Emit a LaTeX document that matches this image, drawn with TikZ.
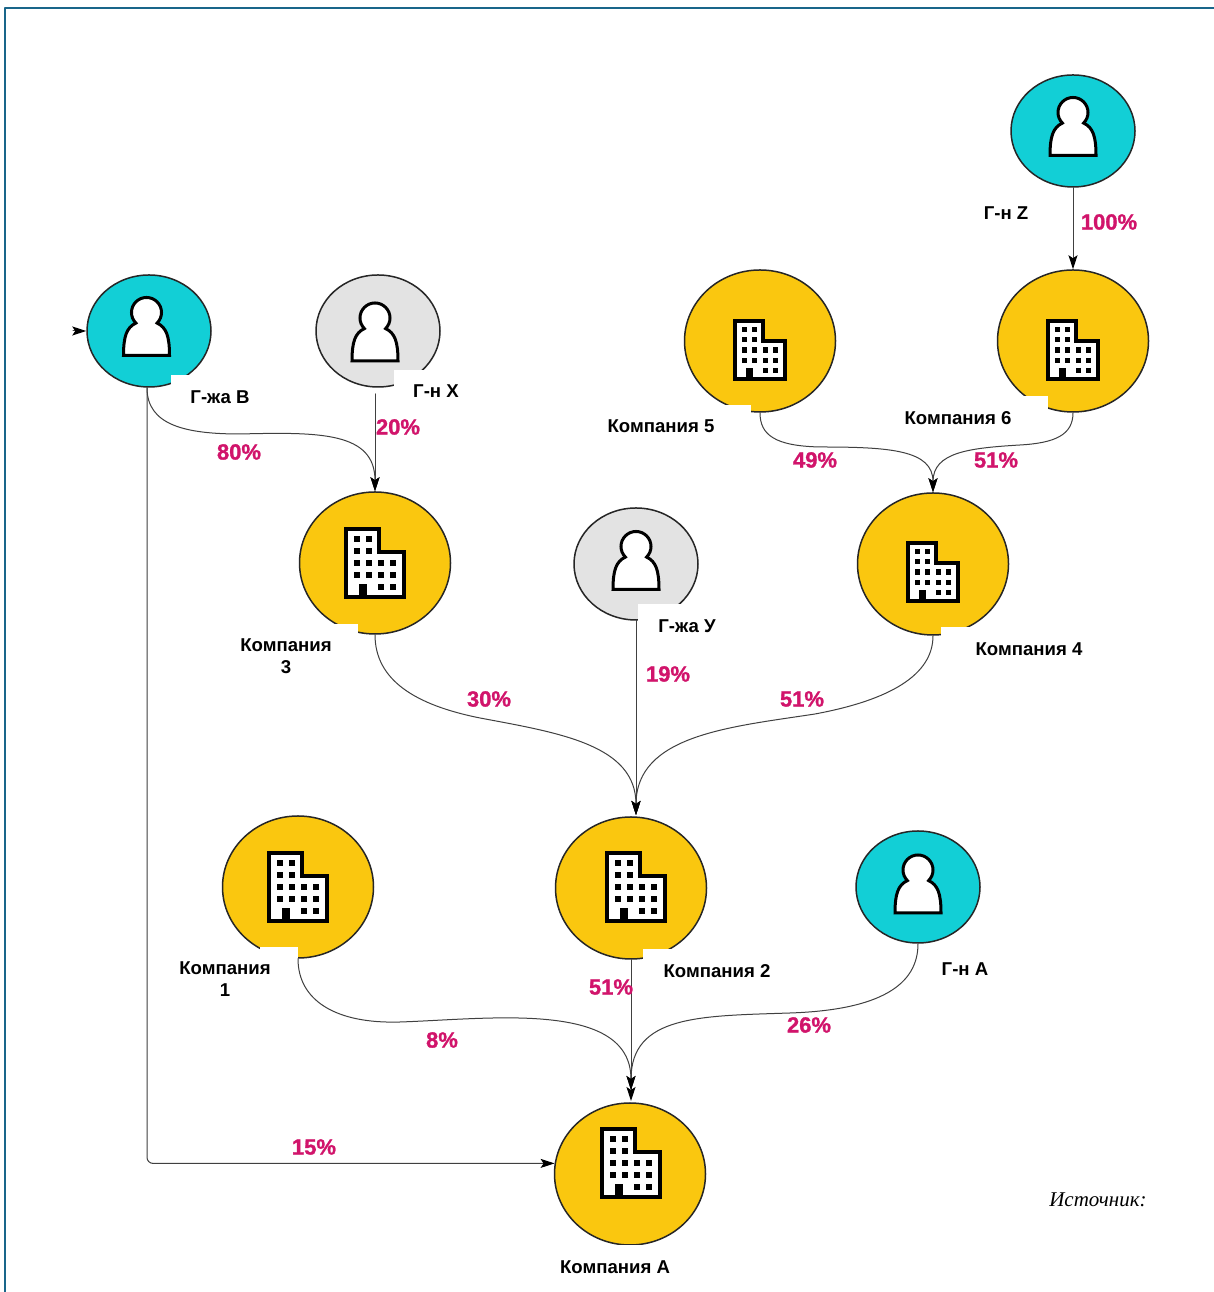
\documentclass[tikz,border=0pt]{standalone}
\usepackage{fontspec}
\setmainfont{Liberation Sans}
\newfontfamily\srcfont{Liberation Serif}
\newfontfamily\pctfont[BoldFeatures={FakeBold=1.2}]{Liberation Sans}
\usetikzlibrary{arrows.meta,shapes.geometric}
\definecolor{tealc}{rgb}{0.07,0.81,0.84}
\definecolor{goldc}{rgb}{0.98,0.78,0.06}
\definecolor{greyc}{rgb}{0.89,0.89,0.89}
\definecolor{pinkc}{rgb}{0.82,0.08,0.42}
\definecolor{framec}{rgb}{0.10,0.40,0.54}
\tikzset{
  owner/.style={ellipse,draw=black!85,line width=1.5pt,inner sep=0pt,minimum width=124pt,minimum height=112pt},
  firm/.style={ellipse,draw=black!85,line width=1.5pt,fill=goldc,inner sep=0pt,minimum width=151pt,minimum height=142pt},
  lbl/.style={font=\fontsize{18.6}{22}\selectfont\bfseries,align=center,inner sep=0pt},
  pct/.style={font=\fontsize{22}{24}\selectfont\pctfont\bfseries,text=pinkc,inner sep=0pt},
  link/.style={draw=black!75,line width=1pt,->},
  personicon/.pic={
    \draw [line width=3pt,fill=white,line join=miter] (-23,-28)-- (23,-28) .. controls (23,-9) and (20,0) .. (10.6,4.4) arc (-45:225:15) .. controls (-20,0) and (-23,-9) .. cycle;
  },
  buildingicon/.pic={
    \draw [line width=4pt,fill=white,line join=miter] (-29,-34)-- (-29,34)-- (4,34)-- (4,11)-- (29,11)-- (29,-34)-- cycle;
    \foreach \yy in {24,12} \foreach \xx in {-18,-6} \fill (\xx-3,\yy-3) rectangle (\xx+3,\yy+3);
    \foreach \yy in {0,-12} \foreach \xx in {-18,-6,6,18} \fill (\xx-3,\yy-3) rectangle (\xx+3,\yy+3);
    \foreach \xx in {6,18} \fill (\xx-3,-27) rectangle (\xx+3,-21);
    \fill (-16,-36) rectangle (-8,-21);
  }
}
\begin{document}
\begin{tikzpicture}[line cap=round,line join=round,>={Stealth[length=14pt,width=9pt,inset=3pt,black]},x=1pt,y=1pt]
    \useasboundingbox (0,0) rectangle (1214,1292);
    \fill [white] (0,0) rectangle (1214,1292);
    \draw [framec,line width=2.5pt,line cap=butt] (5,0)-- (5,1284)-- (1214,1284);
    % owners
    \node [owner,fill=tealc] (gB) at (149,961) {};
    \node [owner,fill=greyc] (gX) at (378,961) {};
    \node [owner,fill=tealc] (gZ) at (1073,1161) {};
    \node [owner,fill=greyc] (gY) at (636,728) {};
    \node [owner,fill=tealc] (gA) at (918,405) {};
    % companies
    \node [firm] (c1) at (298,405) {};
    \node [firm] (c2) at (631,404) {};
    \node [firm] (c3) at (375,729) {};
    \node [firm] (c4) at (933,728) {};
    \node [firm] (c5) at (760,951) {};
    \node [firm] (c6) at (1073,951) {};
    \node [firm] (cA) at (630,118) {};
    % icons
    \pic at (146.5,964.5) {personicon};
    \pic at (375,959) {personicon};
    \pic at (1073,1164.5) {personicon};
    \pic at (636,730.5) {personicon};
    \pic at (918,407) {personicon};
    \pic at (298,405) {buildingicon};
    \pic at (636,405) {buildingicon};
    \pic at (375,729) {buildingicon};
    \pic [scale=.86] at (933,720) {buildingicon};
    \pic [scale=.86] at (760,942) {buildingicon};
    \pic [scale=.86] at (1073,942) {buildingicon};
    \pic at (630.5,129) {buildingicon};
    % patches
    \fill [white] (171,917) rectangle (215,900);
    \fill [white] (394,922) rectangle (445,900);
    \fill [white] (290,668) rectangle (358,650);
    \fill [white] (700,887) rectangle (751,870);
    \fill [white] (1000,896) rectangle (1048,880);
    \fill [white] (941,665) rectangle (1000,650);
    \fill [white] (638,688) rectangle (700,665);
    \fill [white] (260,345) rectangle (298,330);
    \fill [white] (643,343) rectangle (700,330);
    \fill [white] (540,47) rectangle (720,30);
    % connector ends
    \coordinate (stub) at (73,961);
    \coordinate (gXout) at (375,898);
    \coordinate (gYout) at (636,672);
    \coordinate (c2in) at (636,477);
    \coordinate (cAin) at (631,191);
    \coordinate (cAup) at (631,202);
    % connectors
    \draw [link] (stub)-- (gB.west);
    \draw [link] ([xshift=-2pt]gB.south) .. controls (147,867) and (185,858) .. (240,858) .. controls (320,860) and (375,860) .. (c3.north);
    \draw [link,rounded corners=6pt] ([xshift=-2pt]gB.south) |- (cA.172);
    \draw [link] (gXout)-- (c3.north);
    \draw [link] (gZ.south)-- (c6.north);
    \draw [link] (c5.south) .. controls (760,857) and (775,846) .. (820,845) .. controls (890,845) and (933,842) .. (c4.north);
    \draw [link] (c6.south) .. controls (1073,857) and (1055,849) .. (1020,847) .. controls (970,844) and (933,840) .. (c4.north);
    \draw [link] (c3.south) .. controls (375,612) and (415,587) .. (480,574) .. controls (560,559) and (636,547) .. (c2in);
    \draw [link] (gYout)-- (c2in);
    \draw [link] (c4.south) .. controls (933,617) and (890,592) .. (815,578) .. controls (730,565) and (636,557) .. (c2in);
    \draw [link] (c2.south)-- (cAin);
    \draw [link] (c1.south) .. controls (298,292) and (335,268) .. (400,270) .. controls (490,273) and (631,292) .. (cAup);
    \draw [link] (gA.south) .. controls (918,307) and (880,282) .. (790,279) .. controls (700,276) and (631,277) .. (cAup);
    % names
    \node [lbl] (tB) at (220,895) {Г-жа В};
    \node [lbl] (tX) at (436,901) {Г-н Х};
    \node [lbl] (tZ) at (1006,1079) {Г-н Z};
    \node [lbl] (t5) at (661,866) {Компания 5};
    \node [lbl] (t6) at (958,874) {Компания 6};
    \node [lbl] (t3) at (286,636) {Компания\\3};
    \node [lbl] (tY) at (687,666) {Г-жа У};
    \node [lbl] (t4) at (1029,643) {Компания 4};
    \node [lbl] (t1) at (225,313) {Компания\\1};
    \node [lbl] (t2) at (717,321) {Компания 2};
    \node [lbl] (tA) at (965,323) {Г-н А};
    \node [lbl] (tC) at (615,25) {Компания А};
    % shares
    \node [pct] (p100) at (1109,1070) {100\%};
    \node [pct] (p20) at (398,865) {20\%};
    \node [pct] (p80) at (239,840) {80\%};
    \node [pct] (p49) at (815,832) {49\%};
    \node [pct] (p51a) at (996,832) {51\%};
    \node [pct] (p30) at (489,593) {30\%};
    \node [pct] (p19) at (668,618) {19\%};
    \node [pct] (p51b) at (802,593) {51\%};
    \node [pct] (p51c) at (611,305) {51\%};
    \node [pct] (p8) at (442,252) {8\%};
    \node [pct] (p26) at (809,267) {26\%};
    \node [pct] (p15) at (314,145) {15\%};
    \node [inner sep=0pt,font=\fontsize{21}{24}\selectfont\srcfont\itshape] (src) at (1098,92) {Источник:};
\end{tikzpicture}
\end{document}
